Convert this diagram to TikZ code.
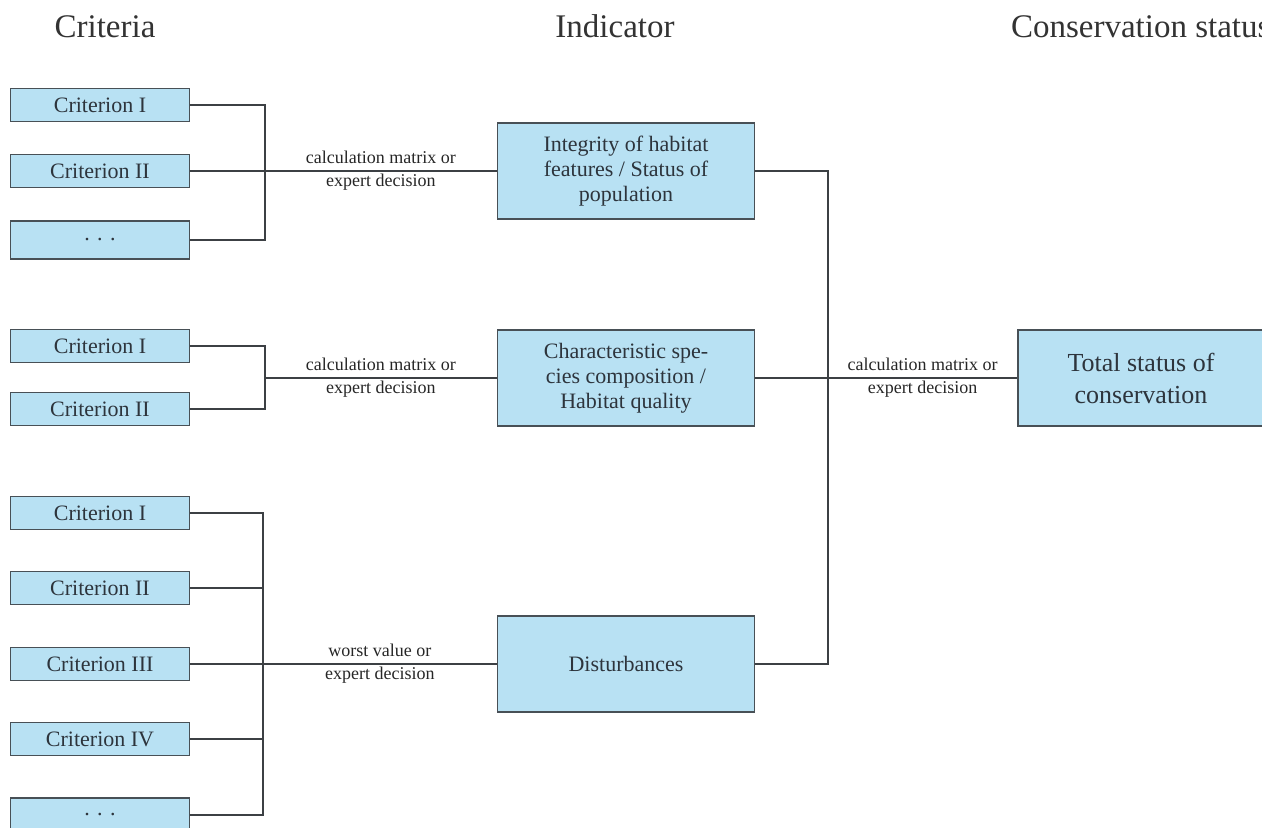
\documentclass[tikz,border=0pt]{standalone}
\usepackage{fontspec}
\setmainfont{Liberation Serif}
\usetikzlibrary{positioning}
\definecolor{boxblue}{RGB}{184, 225, 243}
\definecolor{boxline}{RGB}{72, 80, 86}
\definecolor{linegray}{RGB}{60, 64, 68}
\definecolor{txtgray}{RGB}{45, 52, 60}

\begin{document}
\begin{tikzpicture}[x=0.5pt,y=-0.5pt,on grid,
    crit/.style={draw=boxline,line width=0.7pt,fill=boxblue,minimum width=89.5pt,minimum height=16.5pt,inner sep=0pt,text=txtgray,font=\fontsize{11}{13}\selectfont},
    indic/.style={crit,minimum width=128.5pt,minimum height=48pt,align=center,font=\fontsize{11}{12.5}\selectfont},
    total/.style={indic,minimum width=123pt,font=\fontsize{13}{16}\selectfont},
    head/.style={anchor=base,text=black!80,font=\fontsize{16.5}{19}\selectfont},
    rule/.style={align=center,inner sep=0pt,text=black!85,font=\fontsize{9}{11.5}\selectfont},
    link/.style={draw=linegray,line width=0.6pt}]
    \useasboundingbox (0,0) rectangle (1262,828);
    % column titles
    \node[head] (h_crit) at (105,38) {Criteria};
    \node[head] (h_ind) at (615,38) {Indicator};
    \node[head,anchor=base west] (h_cons) at (1004,38) {Conservation status};

    % first group
    \node[crit] (a_1) at (100,105) {Criterion I};
    \node[crit] (a_2) [below=33pt of a_1] {Criterion II};
    \node[crit,minimum height=19pt] (a_3) [below=34.5pt of a_2] {.\,\,.\,\,.};
    % second group
    \node[crit] (b_1) at (100,346) {Criterion I};
    \node[crit] (b_2) [below=31.5pt of b_1] {Criterion II};
    % third group
    \node[crit] (c_1) at (100,513) {Criterion I};
    \node[crit] (c_2) [below=37.5pt of c_1] {Criterion II};
    \node[crit] (c_3) [below=38pt of c_2] {Criterion III};
    \node[crit] (c_4) [below=37.5pt of c_3] {Criterion IV};
    \node[crit,minimum height=17pt] (c_5) [below=38pt of c_4] {.\,\,.\,\,.};

    % indicators
    \node[indic] (i_1) at (626,171) {Integrity of habitat\\features / Status of\\population};
    \node[indic] (i_2) at (626,378) {Characteristic spe-\\cies composition /\\Habitat quality};
    \node[indic] (i_3) at (626,664) {Disturbances};
    \node[total] (tot) at (1141,378) {Total status of\\conservation};

    \coordinate (s_1) at (265,171);
    \coordinate (s_2) at (265,378);
    \coordinate (s_3) at (263,664);
    \coordinate (s_4) at (828,378);

    \path[link]
    (a_1.east) -| (s_1)
    (a_3.east) -| (s_1)
    (a_2.east) -- (s_1) -- node[rule] {calculation matrix or\\expert decision} (i_1.west)
    (b_1.east) -| (s_2)
    (b_2.east) -| (s_2)
    (s_2) -- node[rule] {calculation matrix or\\expert decision} (i_2.west)
    (c_1.east) -| (s_3)
    (c_2.east) -| (s_3)
    (c_4.east) -| (s_3)
    (c_5.east) -| (s_3)
    (c_3.east) -- (s_3) -- node[rule] {worst value or\\expert decision} (i_3.west)
    (i_1.east) -| (s_4)
    (i_3.east) -| (s_4)
    (i_2.east) -- (s_4) -- node[rule] {calculation matrix or\\expert decision} (tot.west);
\end{tikzpicture}
\end{document}
